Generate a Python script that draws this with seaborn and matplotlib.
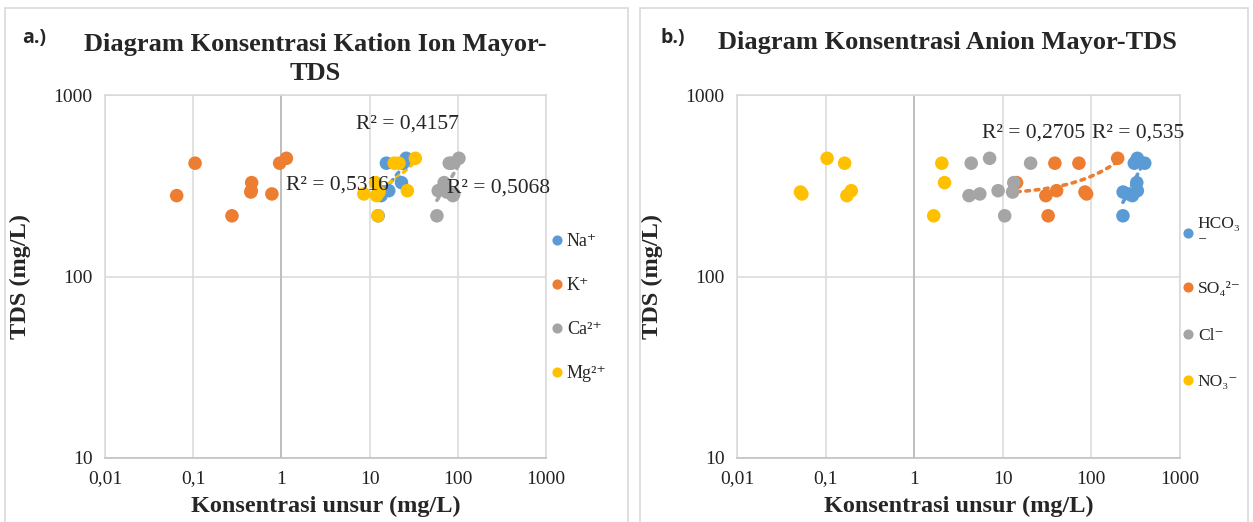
import numpy as np
import pandas as pd
import matplotlib
matplotlib.use("Agg")
import matplotlib.pyplot as plt
from matplotlib.patches import Rectangle
import seaborn as sns

# ---------------- data ----------------
tds = [448, 421, 421, 329, 297, 292, 285, 279, 216]

# cations (mg/L)
na = [26, 15.5, 24, 23, 16.5, 14, 12.5, 13.5, 12.5]
k = [1.14, 0.105, 0.955, 0.46, 0.455, 0.45, 0.78, 0.065, 0.275]
ca = [103, 85, 80, 70, 60, 75, 90, 88, 58]
mg = [33, 19, 21.5, 11.7, 26.8, 12.8, 8.6, 12, 12.4]

# anions (mg/L)
hco3 = [330, 305, 400, 325, 330, 228, 265, 290, 227]
so4 = [198, 38.7, 72.3, 14.3, 40.5, 84.6, 88.3, 30.6, 32.5]
cl = [7.1, 4.4, 20.6, 13.3, 8.85, 12.9, 5.5, 4.16, 10.5]
no3 = [0.104, 0.164, 2.05, 2.2, 0.195, 0.052, 0.054, 0.174, 1.66]

cation_labels = ["Na⁺", "K⁺", "Ca²⁺", "Mg²⁺"]
anion_labels = ["HCO₃\n⁻", "SO₄²⁻", "Cl⁻", "NO₃⁻"]
colors = ["#5B9BD5", "#ED7D31", "#A5A5A5", "#FFC000"]

x_ticks = [0.01, 0.1, 1, 10, 100, 1000]
x_ticklabels = ["0,01", "0,1", "1", "10", "100", "1000"]
y_ticks = [10, 100, 1000]
y_ticklabels = ["10", "100", "1000"]

r2_cation = ["R² = 0,4157", "R² = 0,5316", "R² = 0,5068"]
r2_anion = ["R² = 0,2705", "R² = 0,535"]

title_a = "Diagram Konsentrasi Kation Ion Mayor-\nTDS"
title_b = "Diagram Konsentrasi Anion Mayor-TDS"
xlabel = "Konsentrasi unsur (mg/L)"
ylabel = "TDS (mg/L)"

# ---------------- style ----------------
sns.set_theme(style="white")
SERIF = ["Liberation Serif", "DejaVu Serif"]
plt.rcParams["font.family"] = SERIF

fig = plt.figure(figsize=(12.53, 5.22), dpi=100)

# panel frames
for x0, w in [(5, 623), (640, 608)]:
    fig.patches.append(Rectangle((x0 / 1253, -0.05), w / 1253, (522 - 8) / 522 + 0.05,
                                 transform=fig.transFigure, fill=False,
                                 edgecolor="#d9d9d9", lw=1.2, zorder=0))

axL = fig.add_axes([105 / 1253, 1 - 458 / 522, 441 / 1253, 363 / 522])
axR = fig.add_axes([737 / 1253, 1 - 458 / 522, 443 / 1253, 363 / 522])


def make_df(series, labels):
    rows = []
    for vals, lab in zip(series, labels):
        for xv, yv in zip(vals, tds):
            rows.append({"x": xv, "y": yv, "ion": lab})
    return pd.DataFrame(rows)


def trend(ax, xs, color):
    xs = np.asarray(xs, float)
    ys = np.asarray(tds, float)
    b, a = np.polyfit(xs, ys, 1)
    xx = np.linspace(xs.min(), xs.max(), 200)
    ax.plot(xx, a + b * xx, linestyle=(0, (1, 1.6)), lw=2.6, color=color,
            zorder=3, dash_capstyle="round")


def style_axes(ax):
    ax.set_xscale("log")
    ax.set_yscale("log")
    ax.set_xlim(0.01, 1000)
    ax.set_ylim(10, 1000)
    ax.set_xticks(x_ticks)
    ax.set_xticklabels(x_ticklabels)
    ax.set_yticks(y_ticks)
    ax.set_yticklabels(y_ticklabels)
    ax.minorticks_off()
    ax.tick_params(length=0, labelsize=14, pad=9, colors="#222222")
    ax.grid(True, which="major", color="#d9d9d9", lw=1.1)
    ax.axvline(1, color="#bfbfbf", lw=1.4, zorder=1)
    for s in ax.spines.values():
        s.set_color("#d9d9d9")
        s.set_linewidth(1.1)
    ax.spines["bottom"].set_color("#bfbfbf")
    ax.set_xlabel(xlabel, fontsize=17.5, fontweight="bold", labelpad=6)
    ax.set_ylabel(ylabel, fontsize=17.5, fontweight="bold", labelpad=16)
    ax.set_axisbelow(True)


# ---------------- left panel ----------------
dfL = make_df([na, k, ca, mg], cation_labels)
sns.scatterplot(data=dfL, x="x", y="y", hue="ion", hue_order=cation_labels,
                palette=dict(zip(cation_labels, colors)), s=95,
                edgecolor="none", linewidth=0, ax=axL, zorder=4)
style_axes(axL)
trend(axL, na, colors[0])
trend(axL, mg, colors[3])
trend(axL, ca, colors[2])
axL.text(27, 690, r2_cation[0], fontsize=15.5, ha="center", va="center", zorder=6)
axL.text(4.3, 319, r2_cation[1], fontsize=15.5, ha="center", va="center", zorder=6)
axL.text(290, 307, r2_cation[2], fontsize=15.5, ha="center", va="center", zorder=6)
axL.legend(loc="upper left", bbox_to_anchor=(1.0, 0.635), frameon=False,
           fontsize=13, handletextpad=0.25, handlelength=0.6, labelspacing=1.5,
           markerscale=0.75, borderaxespad=0, borderpad=0.3)

# ---------------- right panel ----------------
dfR = make_df([hco3, so4, cl, no3], anion_labels)
sns.scatterplot(data=dfR, x="x", y="y", hue="ion", hue_order=anion_labels,
                palette=dict(zip(anion_labels, colors)), s=95,
                edgecolor="none", linewidth=0, ax=axR, zorder=4)
style_axes(axR)
trend(axR, so4, colors[1])
trend(axR, hco3, colors[0])
axR.text(22.5, 617, r2_anion[0], fontsize=15.5, ha="center", va="center", zorder=6)
axR.text(335, 617, r2_anion[1], fontsize=15.5, ha="center", va="center", zorder=6)
axR.legend(loc="upper left", bbox_to_anchor=(0.995, 0.68), frameon=False,
           fontsize=12.5, handletextpad=0.25, handlelength=0.6, labelspacing=1.75,
           markerscale=0.75, borderaxespad=0, borderpad=0.3)

# ---------------- titles ----------------
fig.text(315 / 1253, 1 - 59 / 522, title_a, ha="center", va="center",
         fontsize=19, fontweight="bold", linespacing=1.35)
fig.text(947 / 1253, 1 - 43 / 522, title_b, ha="center", va="center",
         fontsize=19, fontweight="bold")
fig.text(22 / 1253, 1 - 38 / 522, "a.)", ha="left", va="center", fontsize=14,
         fontweight="bold", family=["Open Sans", "DejaVu Sans"])
fig.text(660 / 1253, 1 - 38 / 522, "b.)", ha="left", va="center", fontsize=14,
         fontweight="bold", family=["Open Sans", "DejaVu Sans"])

fig.savefig("out.png", dpi=100, facecolor="white")
